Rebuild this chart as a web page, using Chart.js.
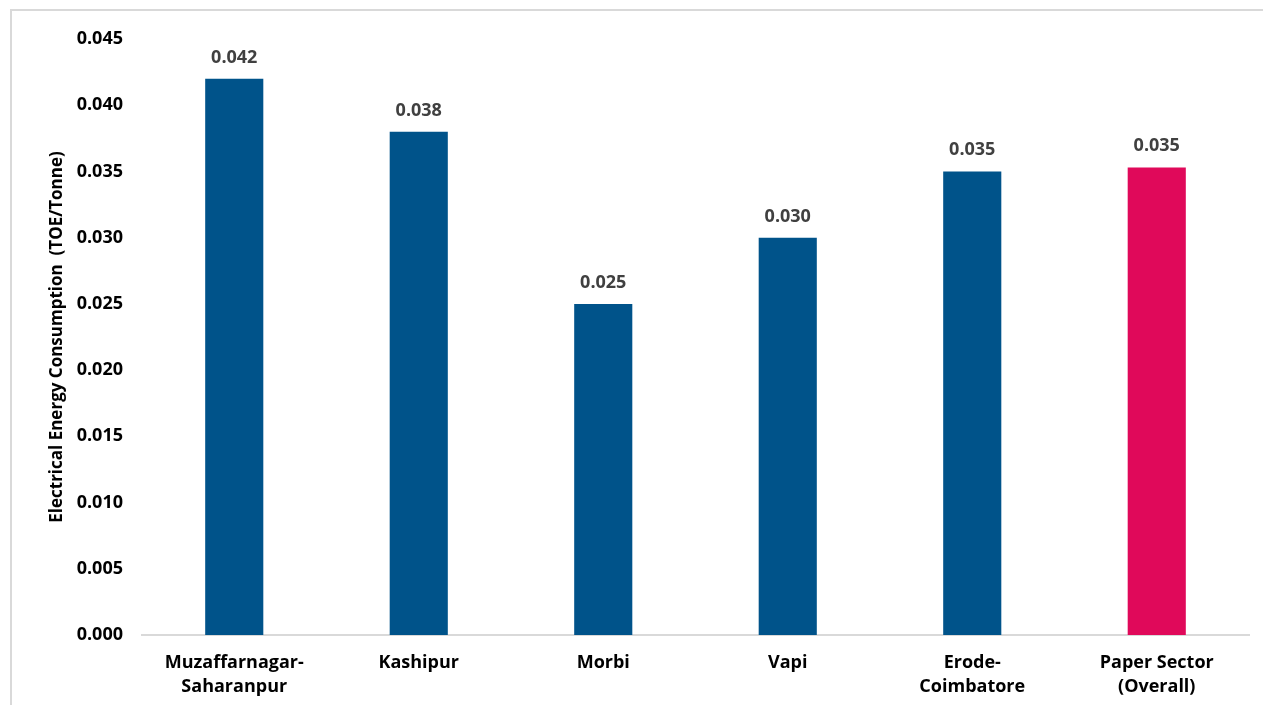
<!DOCTYPE html>
<html>
<head>
<meta charset="utf-8">
<script src="https://cdn.jsdelivr.net/npm/chart.js@4.4.0/dist/chart.umd.min.js"></script>
<style>
  html, body { margin: 0; padding: 0; background: #fff; overflow: hidden; }
  #wrap { position: relative; width: 1263px; height: 705px; }
  #frame {
    position: absolute; left: 10px; top: 9px; width: 1300px; height: 800px;
    border-top: 2px solid #d9d9d9; border-left: 2px solid #d9d9d9;
  }
  canvas { position: absolute; left: 0; top: 0; }
</style>
</head>
<body>
<div id="wrap">
  <div id="frame"></div>
  <canvas id="chart" width="1263" height="705"></canvas>
</div>
<script>
const categories = [
  ["Muzaffarnagar-", "Saharanpur"],
  "Kashipur",
  "Morbi",
  "Vapi",
  ["Erode-", "Coimbatore"],
  ["Paper Sector", "(Overall)"],
];
const consumption = [0.042, 0.038, 0.025, 0.030, 0.035, 0.0353];
const valueLabels = ["0.042", "0.038", "0.025", "0.030", "0.035", "0.035"];
const barColors = ["#00538a", "#00538a", "#00538a", "#00538a", "#00538a", "#e0095a"];

const FONT = "'Open Sans', 'Noto Sans', sans-serif";

// writes the value above each bar
const barValues = {
  id: "barValues",
  afterDatasetsDraw(chart) {
    const ctx = chart.ctx;
    const meta = chart.getDatasetMeta(0);
    ctx.save();
    ctx.font = "bold 18px " + FONT;
    ctx.fillStyle = "#404040";
    ctx.textAlign = "center";
    ctx.textBaseline = "alphabetic";
    meta.data.forEach((bar, i) => {
      ctx.fillText(valueLabels[i], bar.x, bar.y - 16);
    });
    ctx.restore();
  },
};

new Chart(document.getElementById("chart"), {
  type: "bar",
  data: {
    labels: categories,
    datasets: [{
      data: consumption,
      backgroundColor: barColors,
      barPercentage: 0.315,
      categoryPercentage: 1,
    }],
  },
  options: {
    responsive: false,
    animation: false,
    layout: { padding: { top: 39, right: 14, bottom: 0, left: 40 } },
    plugins: { legend: { display: false }, tooltip: { enabled: false } },
    scales: {
      x: {
        grid: { display: false, drawTicks: false },
        border: { display: true, color: "#d9d9d9", width: 2 },
        ticks: {
          color: "#000",
          font: { family: FONT, size: 18, weight: "bold", lineHeight: 1.33 },
          padding: 16,
          maxRotation: 0,
          autoSkip: false,
        },
        afterFit(scale) { scale.height = 70; },
      },
      y: {
        min: 0,
        max: 0.045,
        grid: { display: false, drawTicks: false },
        border: { display: false },
        ticks: {
          stepSize: 0.005,
          color: "#000",
          padding: 19,
          font: { family: FONT, size: 18, weight: "bold" },
          callback: (v) => Number(v).toFixed(3),
        },
        title: {
          display: true,
          text: "Electrical Energy Consumption  (TOE/Tonne)",
          color: "#000",
          font: { family: FONT, size: 17, weight: "bold" },
          padding: { top: 7, bottom: 0 },
        },
        afterFit(scale) { scale.width = 102; },
      },
    },
  },
  plugins: [barValues],
});
</script>
</body>
</html>
